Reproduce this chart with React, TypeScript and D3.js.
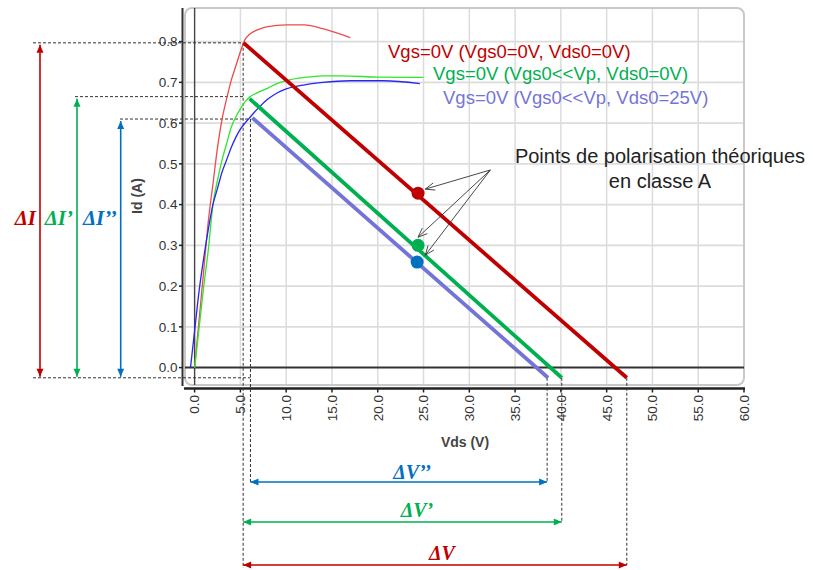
import React from 'react';
import * as d3 from 'd3';

const W = 813;
const H = 570;

// Axis ticks
const xTickValues = [0, 5, 10, 15, 20, 25, 30, 35, 40, 45, 50, 55, 60];
const xTickLabels = ['0.0', '5.0', '10.0', '15.0', '20.0', '25.0', '30.0', '35.0', '40.0', '45.0', '50.0', '55.0', '60.0'];
const yTickValues = [0, 0.1, 0.2, 0.3, 0.4, 0.5, 0.6, 0.7, 0.8];
const yTickLabels = ['0.0', '0.1', '0.2', '0.3', '0.4', '0.5', '0.6', '0.7', '0.8'];

// Output characteristics Id(Vds)
const curveRed: [number, number][] = [
  [0, 0], [0.5, 0.12], [1, 0.24], [1.5, 0.36], [2, 0.45], [2.5, 0.54], [3, 0.61], [3.5, 0.66],
  [4, 0.705], [4.5, 0.74], [5, 0.775], [5.5, 0.805], [6, 0.818], [7, 0.83], [8, 0.837], [10, 0.841],
  [12, 0.841], [14, 0.832], [17, 0.81],
];
const curveGreen: [number, number][] = [
  [0, 0], [0.5, 0.1], [1, 0.2], [1.5, 0.29], [2, 0.4], [2.5, 0.46], [3, 0.51], [3.5, 0.55],
  [4, 0.59], [4.5, 0.615], [5, 0.635], [5.5, 0.652], [6, 0.664], [7, 0.676], [8, 0.686], [9, 0.697],
  [10, 0.704], [12, 0.712], [14, 0.716], [16, 0.716], [20, 0.713], [25, 0.712],
];
const curveBlue: [number, number][] = [
  [-0.45, 0], [0, 0.09], [0.5, 0.19], [1, 0.27], [1.5, 0.34], [2, 0.4], [2.5, 0.44], [3, 0.48],
  [3.5, 0.51], [4, 0.54], [4.5, 0.565], [5, 0.585], [5.5, 0.6], [6, 0.613], [6.5, 0.626], [7, 0.638],
  [8, 0.659], [9, 0.674], [10, 0.684], [11.5, 0.692], [14, 0.7], [17, 0.704], [20.6, 0.704], [24.6, 0.697],
];

// Load lines: start (Vds, Id) and end (Vds, Id)
const loadRed: [number, number][] = [[5.35, 0.797], [47.2, -0.025]];
const loadGreen: [number, number][] = [[6.0, 0.66], [40.1, -0.025]];
const loadBlue: [number, number][] = [[6.3, 0.613], [38.6, -0.025]];

// Bias points
const qVds = [24.4, 24.4, 24.3];
const qId = [0.428, 0.3, 0.259];

// Delta levels
const levelRed = 0.797;
const levelGreen = 0.665;
const levelBlue = 0.61;
const levelBottom = -0.025;
const vLeftRed = 5.3;
const vLeftBlue = 6.1;
const vRightBlue = 38.5;
const vRightGreen = 40.1;
const vRightRed = 47.2;

// annotation arrows (Vds, Id)
const annOrigin: [number, number] = [32.3, 0.485];
const annTargets: [number, number][] = [[25.2, 0.438], [24.4, 0.32], [25.2, 0.276]];

const legendTexts = ['Vgs=0V (Vgs0=0V, Vds0=0V)', 'Vgs=0V (Vgs0<<Vp, Vds0=0V)', 'Vgs=0V (Vgs0<<Vp, Vds0=25V)'];

const RED = '#c00000';
const GREEN = '#00b050';
const BLUE = '#0070c0';
const LAV = '#7474d8';

const sans = '"Liberation Sans", Arial, sans-serif';
const serif = '"Liberation Serif", "Times New Roman", serif';

function arrowHead(tx: number, ty: number, fx: number, fy: number, color: string, len = 8, half = 3.5) {
  const a = Math.atan2(ty - fy, tx - fx);
  const bx = tx - len * Math.cos(a);
  const by = ty - len * Math.sin(a);
  const px = -Math.sin(a) * half;
  const py = Math.cos(a) * half;
  return <polygon points={`${tx},${ty} ${bx + px},${by + py} ${bx - px},${by - py}`} fill={color} />;
}

function DoubleArrow({ x1, y1, x2, y2, color }: { x1: number; y1: number; x2: number; y2: number; color: string }) {
  return (
    <g>
      <line x1={x1} y1={y1} x2={x2} y2={y2} stroke={color} strokeWidth={1.6} />
      {arrowHead(x1, y1, x2, y2, color)}
      {arrowHead(x2, y2, x1, y1, color)}
    </g>
  );
}

export default function App() {
  const x = d3.scaleLinear().domain([-1.05, 60]).range([185, 744]);
  const y = d3.scaleLinear().domain([-0.0427, 0.8825]).range([385, 8]);
  const line = d3.line<[number, number]>().x(d => x(d[0])).y(d => y(d[1])).curve(d3.curveMonotoneX);
  const straight = d3.line<[number, number]>().x(d => x(d[0])).y(d => y(d[1]));

  const fx = 185, fy = 8, fw = 559, fh = 377;
  const dash = '3,2';

  const leftArrowX = [40, 77, 120.7];
  const levels = [levelRed, levelGreen, levelBlue];
  const colsI = [RED, GREEN, BLUE];
  const labI = ['ΔI', 'ΔI’', 'ΔI’’'];

  const yb = y(levelBottom);

  return (
    <svg width={W} height={H} style={{ position: 'absolute', left: 0, top: 0, background: '#fff' }}>
      <rect x={0} y={0} width={W} height={H} fill="#fff" />
      {/* grid */}
      {xTickValues.filter(v => v > 0 && v < 60).map(v => (
        <line key={'gx' + v} x1={x(v)} x2={x(v)} y1={fy} y2={fy + fh} stroke="#dcdcdc" strokeWidth={1.5} />
      ))}
      {yTickValues.filter(v => v > 0).map(v => (
        <line key={'gy' + v} x1={fx} x2={fx + fw} y1={y(v)} y2={y(v)} stroke="#dcdcdc" strokeWidth={1.8} />
      ))}
      <rect x={fx} y={fy} width={fw} height={fh} rx={7} ry={7} fill="none" stroke="#c8c8c8" strokeWidth={2} />
      {/* zero lines */}
      <line x1={x(0)} x2={x(0)} y1={fy} y2={fy + fh} stroke="#444" strokeWidth={1.4} />
      <line x1={fx} x2={fx + fw} y1={y(0)} y2={y(0)} stroke="#333" strokeWidth={2} />
      {/* axes */}
      <line x1={182.5} x2={182.5} y1={fy} y2={386} stroke="#333" strokeWidth={2} />
      {yTickValues.map((v, i) => (
        <g key={'yt' + v}>
          <line x1={179} x2={182.5} y1={y(v)} y2={y(v)} stroke="#222" strokeWidth={1.5} />
          <text x={177.5} y={y(v)} dy="0.36em" textAnchor="end" fontFamily={sans} fontSize={13.5} fill="#333">{yTickLabels[i]}</text>
        </g>
      ))}
      <line x1={184} x2={745} y1={388.5} y2={388.5} stroke="#222" strokeWidth={2.5} />
      {xTickValues.map((v, i) => (
        <g key={'xt' + v}>
          <line x1={x(v)} x2={x(v)} y1={388.5} y2={392.5} stroke="#222" strokeWidth={1.5} />
          <text transform={`translate(${x(v)},395) rotate(-90)`} dy="0.36em" textAnchor="end" fontFamily={sans} fontSize={13.5} fill="#333">{xTickLabels[i]}</text>
        </g>
      ))}
      <text x={465} y={447} textAnchor="middle" fontFamily={sans} fontWeight="bold" fontSize={14} fill="#444">Vds (V)</text>
      <text transform="translate(142,196) rotate(-90)" textAnchor="middle" fontFamily={sans} fontWeight="bold" fontSize={14} fill="#444">Id (A)</text>

      {/* dashed construction lines */}
      <g stroke="#333" strokeWidth={1} strokeDasharray={dash} fill="none">
        <line x1={33} x2={x(vLeftRed)} y1={y(levelRed)} y2={y(levelRed)} />
        <line x1={75} x2={x(vLeftRed)} y1={y(levelGreen)} y2={y(levelGreen)} />
        <line x1={120} x2={x(vLeftBlue)} y1={y(levelBlue)} y2={y(levelBlue)} />
        <line x1={33} x2={x(vLeftBlue)} y1={yb} y2={yb} />
        <line x1={x(vLeftRed)} x2={x(vLeftRed)} y1={y(levelRed)} y2={568} />
        <line x1={x(vLeftBlue)} x2={x(vLeftBlue)} y1={y(levelBlue)} y2={482} />
        <line x1={x(vRightBlue)} x2={x(vRightBlue)} y1={yb} y2={482} />
        <line x1={x(vRightGreen)} x2={x(vRightGreen)} y1={yb} y2={522} />
        <line x1={x(vRightRed)} x2={x(vRightRed)} y1={yb} y2={565} />
      </g>

      {/* characteristic curves */}
      <path d={line(curveRed) || ''} fill="none" stroke="#ef4a4a" strokeWidth={1.3} />
      <path d={line(curveGreen) || ''} fill="none" stroke="#2ee62e" strokeWidth={1.3} />
      <path d={line(curveBlue) || ''} fill="none" stroke="#2626f0" strokeWidth={1.3} />

      {/* load lines */}
      <path d={straight(loadRed) || ''} stroke={RED} strokeWidth={3.8} fill="none" />
      <path d={straight(loadGreen) || ''} stroke={GREEN} strokeWidth={3.8} fill="none" />
      <path d={straight(loadBlue) || ''} stroke={LAV} strokeWidth={3.8} fill="none" />

      {/* bias points */}
      {qVds.map((v, i) => (
        <circle key={'q' + i} cx={x(v)} cy={y(qId[i])} r={6.5} fill={[RED, GREEN, BLUE][i]} />
      ))}

      {/* annotation arrows */}
      {annTargets.map((t, i) => {
        const x1 = x(annOrigin[0]), y1 = y(annOrigin[1]);
        const x2 = x(t[0]), y2 = y(t[1]);
        const a = Math.atan2(y2 - y1, x2 - x1);
        const L = 10, sp = 0.38;
        return (
          <g key={'an' + i} stroke="#333" strokeWidth={0.9} fill="none">
            <line x1={x1} y1={y1} x2={x2} y2={y2} />
            <line x1={x2} y1={y2} x2={x2 - L * Math.cos(a - sp)} y2={y2 - L * Math.sin(a - sp)} />
            <line x1={x2} y1={y2} x2={x2 - L * Math.cos(a + sp)} y2={y2 - L * Math.sin(a + sp)} />
          </g>
        );
      })}
      <text x={660} y={163} textAnchor="middle" fontFamily={sans} fontSize={20} fill="#222">Points de polarisation théoriques</text>
      <text x={660} y={188} textAnchor="middle" fontFamily={sans} fontSize={20} fill="#222">en classe A</text>

      {/* legend texts */}
      <text x={388} y={58} fontFamily={sans} fontSize={18.5} fill={RED}>{legendTexts[0]}</text>
      <text x={433} y={80} fontFamily={sans} fontSize={18.5} fill={GREEN}>{legendTexts[1]}</text>
      <text x={443} y={104} fontFamily={sans} fontSize={18.5} fill={LAV}>{legendTexts[2]}</text>

      {/* delta I arrows */}
      {leftArrowX.map((ax, i) => (
        <g key={'di' + i}>
          <DoubleArrow x1={ax} y1={y(levels[i]) + 2} x2={ax} y2={yb - 1} color={colsI[i]} />
          <text x={ax - 4} y={225} textAnchor="end" fontFamily={serif} fontStyle="italic" fontWeight="bold" fontSize={21} fill={colsI[i]}>{labI[i]}</text>
        </g>
      ))}

      {/* delta V arrows */}
      <DoubleArrow x1={x(vLeftBlue)} y1={482} x2={x(vRightBlue)} y2={482} color={BLUE} />
      <text x={412} y={479} textAnchor="middle" fontFamily={serif} fontStyle="italic" fontWeight="bold" fontSize={20} fill={BLUE}>ΔV’’</text>
      <DoubleArrow x1={x(vLeftRed)} y1={522} x2={x(vRightGreen)} y2={522} color={GREEN} />
      <text x={417} y={517} textAnchor="middle" fontFamily={serif} fontStyle="italic" fontWeight="bold" fontSize={20} fill={GREEN}>ΔV’</text>
      <DoubleArrow x1={x(vLeftRed)} y1={565} x2={x(vRightRed)} y2={565} color={RED} />
      <text x={442} y={560} textAnchor="middle" fontFamily={serif} fontStyle="italic" fontWeight="bold" fontSize={20} fill={RED}>ΔV</text>
    </svg>
  );
}
